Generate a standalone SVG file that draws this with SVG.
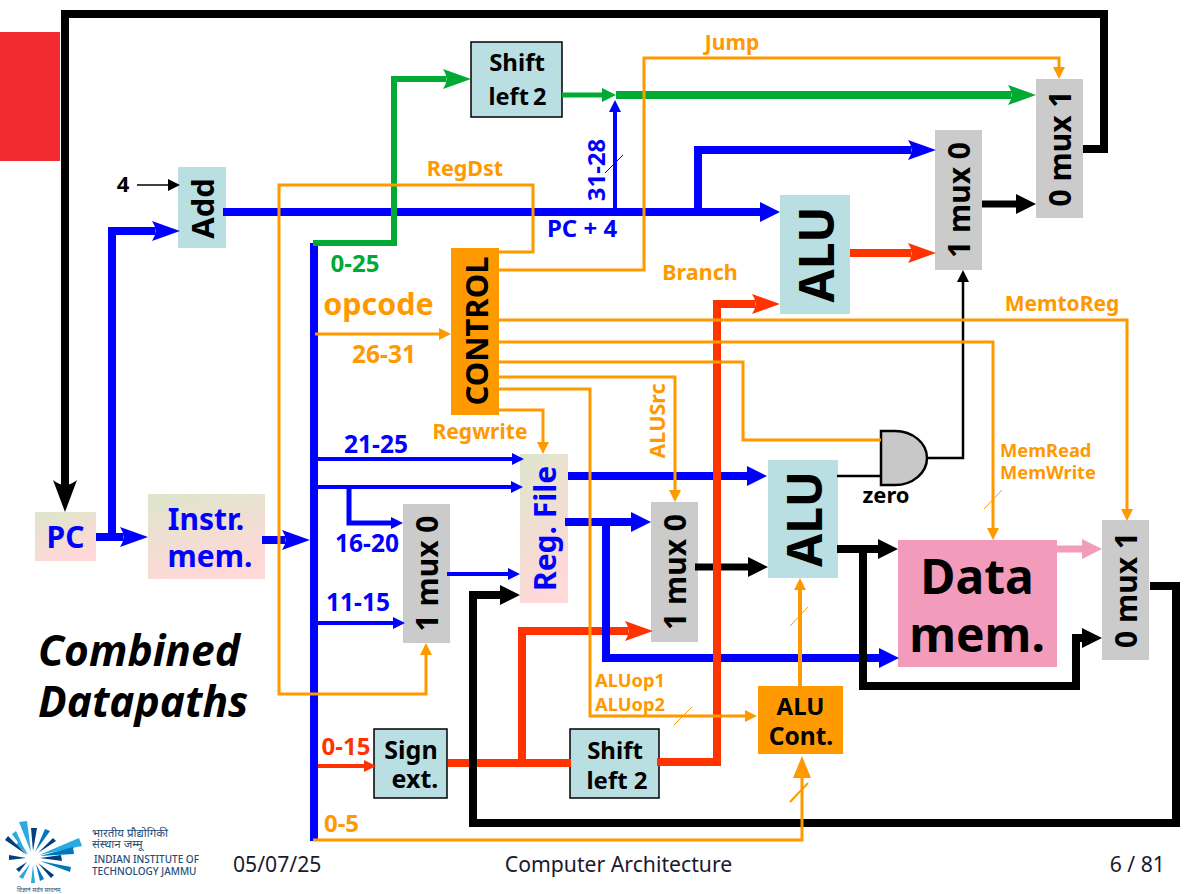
<svg xmlns="http://www.w3.org/2000/svg" width="1201" height="894" viewBox="0 0 1201 894">
<style>
text{font-family:"Noto Sans","DejaVu Sans",sans-serif;font-weight:700;text-anchor:middle}
.k{fill:#000}.b{fill:#0000ff}.o{fill:#ff9900}.g{fill:#00aa33}.r{fill:#ff3300}
.foot{font-weight:400;fill:#1a1a2e;font-size:21.2px}
.sb{stroke:#0000ff}.sk{stroke:#000}.sr{stroke:#ff3300}.sg{stroke:#00aa33}.so{stroke:#ff9900}.sp{stroke:#f29bbb}
.t8{stroke-width:8}.t7{stroke-width:7}.t6{stroke-width:6}.t5{stroke-width:5}.t4{stroke-width:4}.t3{stroke-width:3}.t2{stroke-width:2.5}
.tick{stroke-width:1}
.teal{fill:#b9dfe3}.tealb{fill:#b9dfe3;stroke:#000;stroke-width:1.5}.mux{fill:#cbcbcb}.ctl{fill:#ff9900}
</style>
<defs>
<linearGradient id="gr" x1="0" y1="0" x2="0.35" y2="1"><stop offset="0" stop-color="#dde6cb"/><stop offset="1" stop-color="#ffd8d8"/></linearGradient>
<marker id="ab" markerUnits="userSpaceOnUse" markerWidth="28" markerHeight="20" refX="3" refY="10" orient="auto"><path d="M0,0L28,10L0,20Q7,10 0,0Z" fill="#0000ff"/></marker>
<marker id="ak" markerUnits="userSpaceOnUse" markerWidth="32" markerHeight="24" refX="7" refY="12" orient="auto"><path d="M0,0L32,12L0,24Q10,12 0,0Z" fill="#000"/></marker>
<marker id="ar" markerUnits="userSpaceOnUse" markerWidth="28" markerHeight="20" refX="3" refY="10" orient="auto"><path d="M0,0L28,10L0,20Q7,10 0,0Z" fill="#ff3300"/></marker>
<marker id="ag" markerUnits="userSpaceOnUse" markerWidth="28" markerHeight="20" refX="3" refY="10" orient="auto"><path d="M0,0L28,10L0,20Q7,10 0,0Z" fill="#00aa33"/></marker>
<marker id="fb" markerUnits="userSpaceOnUse" markerWidth="20" markerHeight="20" refX="1" refY="10" orient="auto"><path d="M0,0L20,10L0,20Z" fill="#0000ff"/></marker>
<marker id="fk" markerUnits="userSpaceOnUse" markerWidth="20" markerHeight="20" refX="1" refY="10" orient="auto"><path d="M0,0L20,10L0,20Z" fill="#000"/></marker>
<marker id="fp" markerUnits="userSpaceOnUse" markerWidth="20" markerHeight="20" refX="1" refY="10" orient="auto"><path d="M0,0L20,10L0,20Z" fill="#f29bbb"/></marker>
<marker id="fo" markerUnits="userSpaceOnUse" markerWidth="22" markerHeight="18" refX="1" refY="9" orient="auto"><path d="M0,0L22,9L0,18Z" fill="#ff9900"/></marker>
<marker id="sb" markerUnits="userSpaceOnUse" markerWidth="12" markerHeight="12" refX="1" refY="6" orient="auto"><path d="M0,0L12,6L0,12Z" fill="#0000ff"/></marker>
<marker id="sk" markerUnits="userSpaceOnUse" markerWidth="12" markerHeight="12" refX="1" refY="6" orient="auto"><path d="M0,0L12,6L0,12Z" fill="#000"/></marker>
<marker id="sg" markerUnits="userSpaceOnUse" markerWidth="14" markerHeight="14" refX="1" refY="7" orient="auto"><path d="M0,0L14,7L0,14Z" fill="#00aa33"/></marker>
<marker id="so" markerUnits="userSpaceOnUse" markerWidth="12" markerHeight="12" refX="1" refY="6" orient="auto"><path d="M0,0L12,6L0,12Z" fill="#ff9900"/></marker>
<marker id="sr" markerUnits="userSpaceOnUse" markerWidth="12" markerHeight="12" refX="1" refY="6" orient="auto"><path d="M0,0L12,6L0,12Z" fill="#ff3300"/></marker>
</defs>
<rect width="1201" height="894" fill="#fff"/>
<rect id="red-block" x="0" y="32" width="60" height="129" fill="#f12b2f"/>

<g id="n-pc"><rect x="35" y="512" width="61" height="49" fill="url(#gr)"/><text class="b" x="65.500" y="548" font-size="30">PC</text></g>
<g id="n-add"><rect class="teal" x="178" y="167" width="48" height="81"/><text class="k" transform="translate(214,208.500) rotate(-90)" font-size="31">Add</text></g>
<g id="n-imem"><rect x="148" y="494" width="117" height="85" fill="url(#gr)"/><text class="b" x="206" y="530" font-size="30">Instr.</text><text class="b" x="210" y="567" font-size="30">mem.</text></g>
<g id="n-shift-top"><rect class="tealb" x="471" y="42" width="91" height="75"/><text class="k" x="517" y="71" font-size="24">Shift</text><text class="k" x="517.500" y="105" font-size="23.500" word-spacing="-2">left 2</text></g>
<g id="n-alu-top"><rect class="teal" x="780" y="195" width="70" height="119"/><text class="k" transform="translate(834,254.500) rotate(-90)" font-size="48">ALU</text></g>
<g id="n-mux-a"><rect class="mux" x="935" y="130" width="47" height="140"/><text class="k" transform="translate(970,200) rotate(-90)" font-size="30">1 mux 0</text></g>
<g id="n-mux-b"><rect class="mux" x="1036" y="79" width="47" height="139"/><text class="k" transform="translate(1071,148.500) rotate(-90)" font-size="30">0 mux 1</text></g>
<g id="n-control"><rect class="ctl" x="451" y="248" width="48" height="167"/><text class="k" transform="translate(488,331) rotate(-90)" font-size="31">CONTROL</text></g>
<g id="n-regfile"><rect x="520" y="454" width="48" height="149" fill="url(#gr)"/><text class="b" transform="translate(556,528.500) rotate(-90)" font-size="30">Reg. File</text></g>
<g id="n-mux-c"><rect class="mux" x="403" y="504" width="47" height="139"/><text class="k" transform="translate(438,573.500) rotate(-90)" font-size="30">1 mux 0</text></g>
<g id="n-mux-d"><rect class="mux" x="651" y="502" width="47" height="140"/><text class="k" transform="translate(686,572) rotate(-90)" font-size="30">1 mux 0</text></g>
<g id="n-alu-mid"><rect class="teal" x="768" y="460" width="70" height="118"/><text class="k" transform="translate(822,519) rotate(-90)" font-size="48">ALU</text></g>
<g id="n-dmem"><rect x="898" y="540" width="159" height="127" fill="#f29bbb"/><text class="k" x="977" y="594" font-size="48">Data</text><text class="k" x="977" y="652" font-size="48">mem.</text></g>
<g id="n-mux-e"><rect class="mux" x="1102" y="520" width="47" height="140"/><text class="k" transform="translate(1137,590) rotate(-90)" font-size="30">0 mux 1</text></g>
<g id="n-alucont"><rect class="ctl" x="758" y="686" width="85" height="68"/><text class="k" x="800.500" y="715" font-size="24">ALU</text><text class="k" x="801" y="745" font-size="24.500">Cont.</text></g>
<g id="n-signext"><rect class="tealb" x="374" y="729" width="73" height="69"/><text class="k" x="411" y="759" font-size="25">Sign</text><text class="k" x="415" y="788" font-size="25">ext.</text></g>
<g id="n-shift-low"><rect class="tealb" x="570" y="729" width="89" height="69"/><text class="k" x="615" y="759" font-size="24">Shift</text><text class="k" x="617" y="789" font-size="24">left 2</text></g>
<g id="n-and"><path d="M881,431H895A32,27 0 0 1 895,485H881Z" fill="#c8c8c8" stroke="#000" stroke-width="2.5"/></g>

<g id="connectors" fill="none">
<path class="sr t8" d="M448,763H571"/>
<path class="sr t8" d="M522,763V631H628" marker-end="url(#ar)"/>
<path class="sr t4" d="M316,766H365" marker-end="url(#sr)"/>
<path class="sb t8" d="M314,243V841"/>
<path class="sb t8" d="M568,476H748" marker-end="url(#fb)"/>
<path class="sb t8" d="M565,522H632" marker-end="url(#fb)"/>
<path class="sb t8" d="M606,522V658H880" marker-end="url(#fb)"/>
<path class="sk t7" d="M695,567H749" marker-end="url(#fk)"/>
<path class="sr t8" d="M657,762H717V304H755" marker-end="url(#ar)"/>
<path class="sb t8" d="M96,537H123" marker-end="url(#ab)"/>
<path class="sb t8" d="M112,537V231H155" marker-end="url(#ab)"/>
<path class="sb t8" d="M262,540H285" marker-end="url(#ab)"/>
<path class="sb t8" d="M223,212H761" marker-end="url(#fb)"/>
<path class="sb t4" d="M615,212V111" marker-end="url(#sb)"/>
<path class="sb t8" d="M698,212V150H911" marker-end="url(#ab)"/>
<path class="sb t4" d="M318,459H513" marker-end="url(#sb)"/>
<path class="sb t4" d="M318,487H512" marker-end="url(#sb)"/>
<path class="sb t5" d="M349,487V523H392" marker-end="url(#sb)"/>
<path class="sb t4" d="M318,623H394" marker-end="url(#sb)"/>
<path class="sb t4" d="M447,574H509" marker-end="url(#sb)"/>
<path class="sb tick" d="M605,173L623,155"/>
<path class="sg t6" d="M313,243H394V79H446" marker-end="url(#ag)"/>
<path class="sg t5" d="M562,95H603" marker-end="url(#sg)"/>
<path class="sg t8" d="M616,95H1011" marker-end="url(#ag)"/>
<path class="sr t8" d="M850,253H911" marker-end="url(#ar)"/>
<path class="sp t7" d="M1057,549H1083" marker-end="url(#fp)"/>
<path class="sk t8" d="M1083,149H1104V14H65V487" marker-end="url(#ak)"/>
<path class="sk t7" d="M982,204H1017" marker-end="url(#fk)"/>
<path class="sk t8" d="M837,549H879" marker-end="url(#fk)"/>
<path class="sk t8" d="M863,549V686H1076V638H1083" marker-end="url(#fk)"/>
<path class="sk t8" d="M1150,586H1176V823H473V595H501" marker-end="url(#fk)"/>
<path class="sk t2" d="M837,476H881"/>
<path class="sk t2" d="M927,458H963V281" marker-end="url(#sk)"/>
<path class="sk" stroke-width="1.5" d="M137,185H169" marker-end="url(#sk)"/>
<path class="so t3" d="M315,334H440" marker-end="url(#so)"/>
<path class="so t3" d="M499,252H533V185H279V694H426V654" marker-end="url(#so)"/>
<path class="so t3" d="M499,270H644V58H1059V68" marker-end="url(#so)"/>
<path class="so t3" d="M499,320H1127V510" marker-end="url(#so)"/>
<path class="so t3" d="M499,342H993V529" marker-end="url(#so)"/>
<path class="so t3" d="M499,362H743V440H881"/>
<path class="so t3" d="M499,377H675V491" marker-end="url(#so)"/>
<path class="so t3" d="M499,389H590V716H746" marker-end="url(#so)"/>
<path class="so t3" d="M499,410H543V443" marker-end="url(#so)"/>
<path class="so t4" d="M800,686V589" marker-end="url(#so)"/>
<path class="so t3" d="M313,840H802V777" marker-end="url(#fo)"/>
<path class="so tick" d="M984,509L1002,490M790,626L808,607M674,725L692,707"/>
<path class="so" stroke-width="2" d="M790,802L808,783"/>
</g>

<g id="labels">
<text class="k" x="123" y="192" font-size="22">4</text>
<text class="o" x="732" y="50" font-size="21">Jump</text>
<text class="o" x="465" y="176" font-size="21.500">RegDst</text>
<text class="b" x="582" y="237" font-size="24">PC + 4</text>
<text class="b" transform="translate(605,170) rotate(-90)" font-size="24">31-28</text>
<text class="g" x="355" y="272" font-size="24">0-25</text>
<text class="o" x="378.500" y="315" font-size="30.500">opcode</text>
<text class="o" x="384" y="363" font-size="24.500">26-31</text>
<text class="o" x="700" y="280" font-size="21.500">Branch</text>
<text class="o" x="1062" y="311" font-size="21">MemtoReg</text>
<text class="o" x="480" y="439" font-size="21">Regwrite</text>
<text class="o" transform="translate(665,421) rotate(-90)" font-size="21.500">ALUSrc</text>
<text class="b" x="376" y="453" font-size="24.500">21-25</text>
<text class="b" x="367" y="552" font-size="24.500">16-20</text>
<text class="b" x="358" y="611" font-size="24.500">11-15</text>
<text class="o" x="1000" y="457" font-size="18.300" style="text-anchor:start">MemRead</text>
<text class="o" x="1000" y="479" font-size="18.300" style="text-anchor:start">MemWrite</text>
<text class="k" x="886" y="503" font-size="22">zero</text>
<text class="o" x="595" y="687" font-size="18.300" style="text-anchor:start">ALUop1</text>
<text class="o" x="595" y="711" font-size="18.300" style="text-anchor:start">ALUop2</text>
<text class="r" x="346" y="755" font-size="24">0-15</text>
<text class="o" x="341.500" y="832" font-size="24">0-5</text>
<text class="k" x="38" y="666" font-size="42.500" font-style="italic" style="text-anchor:start">Combined</text>
<text class="k" x="38" y="717" font-size="42.500" font-style="italic" style="text-anchor:start">Datapaths</text>
</g>

<g id="footer">
<g id="logo" transform="translate(33,858)">
<g fill="#29abe2"><path d="M6,-3L46,-20L49,-12Z"/><path d="M-2,-6L-14,-36L-6,-37Z"/><path d="M-5,-4L-17,-13L-14,-17Z"/><path d="M-3,6L-10,21L-14,19Z"/><path d="M0,7L-2,25L2,25Z"/><path d="M-6,-3L-21,-24L-17,-27Z"/></g>
<g fill="#0078c0"><path d="M7,-2L40,-11L41,-4Z"/><path d="M2,-6L12,-29L17,-27Z"/><path d="M7,3L38,9L37,14Z"/><path d="M3,6L11,21L7,23Z"/></g>
<g fill="#003f80"><path d="M7,0L28,-3L29,3Z"/><path d="M0,-7L-2,-30L4,-30Z"/><path d="M5,-5L20,-20L23,-17Z"/><path d="M-6,-3L-28,-18L-25,-22Z"/><path d="M-7,0L-24,-3L-24,2Z"/><path d="M-6,4L-17,11L-14,14Z"/><path d="M5,5L21,17L18,20Z"/></g>
</g>
<text x="92" y="837" font-size="11.500" style="text-anchor:start;font-family:'Noto Sans Devanagari','Noto Sans',sans-serif;font-weight:400;fill:#1f4e79">भारतीय प्रौद्योगिकी</text>
<text x="92" y="848" font-size="11.500" style="text-anchor:start;font-family:'Noto Sans Devanagari','Noto Sans',sans-serif;font-weight:400;fill:#1f4e79">संस्थान जम्मू</text>
<text x="94" y="863" font-size="10" style="text-anchor:start;font-weight:500;fill:#1f4e79">INDIAN INSTITUTE OF</text>
<text x="92" y="875" font-size="10" style="text-anchor:start;font-weight:500;fill:#1f4e79">TECHNOLOGY JAMMU</text>
<text x="17" y="892" font-size="6" style="text-anchor:start;font-weight:400;fill:#1f4e79">विज्ञानं सर्वत्र साधनम्</text>
<text class="foot" x="233" y="872" style="text-anchor:start">05/07/25</text>
<text class="foot" x="618.500" y="872">Computer Architecture</text>
<text class="foot" x="1165" y="872" style="text-anchor:end">6 / 81</text>
</g>
</svg>
